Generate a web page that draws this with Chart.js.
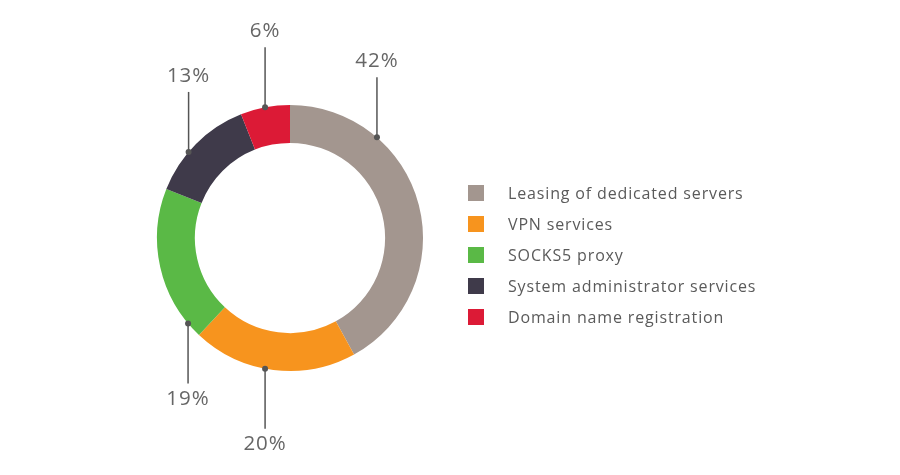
<!DOCTYPE html>
<html>
<head>
<meta charset="utf-8">
<script src="https://cdn.jsdelivr.net/npm/chart.js@4/dist/chart.umd.min.js"></script>
<style>
  html, body { margin: 0; padding: 0; background: #fff; }
  #wrap { position: relative; width: 900px; height: 475px; }
  #legend { position: absolute; left: 468px; top: 178px; font-family: "Open Sans", sans-serif; font-size: 16px; letter-spacing: 0.85px; color: #5a5a5a; }
  .row { display: flex; align-items: center; height: 30.8px; }
  .sw { width: 16px; height: 16px; margin-right: 24px; }
</style>
</head>
<body>
<div id="wrap">
  <canvas id="donut" width="900" height="475"></canvas>
  <div id="legend"></div>
</div>
<script>
const categories = ['Leasing of dedicated servers', 'VPN services', 'SOCKS5 proxy', 'System administrator services', 'Domain name registration'];
const shares = [42, 20, 19, 13, 6];
const colors = ['#a3968f', '#f7941e', '#5ab946', '#3f3a4a', '#dc1a36'];
// where along each slice the leader line is attached (0 = start, 1 = end)
const labelSpots = [0.27, 0.55, 0.1, 0.4, 0.5];

const legendDiv = document.getElementById('legend');
categories.forEach((name, i) => {
    const row = document.createElement('div');
    row.className = 'row';
    row.innerHTML = `<span class="sw" style="background:${colors[i]}"></span><span>${name}</span>`;
    legendDiv.appendChild(row);
});

const leaderLabels = {
    id: 'leaderLabels',
    afterDatasetsDraw(chart) {
        const ctx = chart.ctx;
        const arcs = chart.getDatasetMeta(0).data;
        ctx.save();
        arcs.forEach((arc, i) => {
            const a = arc.startAngle + (arc.endAngle - arc.startAngle) * labelSpots[i];
            const px = arc.x + Math.cos(a) * arc.outerRadius;
            const py = arc.y + Math.sin(a) * arc.outerRadius;
            const up = py < arc.y;
            const endY = up ? py - 60 : py + 60;
            ctx.strokeStyle = '#555';
            ctx.lineWidth = 1.5;
            ctx.beginPath();
            ctx.moveTo(px, py);
            ctx.lineTo(px, endY);
            ctx.stroke();
            ctx.fillStyle = '#555';
            ctx.beginPath();
            ctx.arc(px, py, 3, 0, Math.PI * 2);
            ctx.fill();
            ctx.fillStyle = '#666';
            ctx.font = '20.5px "Open Sans", sans-serif';
            ctx.letterSpacing = '1px';
            ctx.textAlign = 'center';
            ctx.textBaseline = 'middle';
            ctx.fillText(shares[i] + '%', px, up ? endY - 16 : endY + 16);
        });
        ctx.restore();
    }
};

new Chart(document.getElementById('donut').getContext('2d'), {
    type: 'doughnut',
    data: {
        labels: categories,
        datasets: [{
            data: shares,
            backgroundColor: colors,
            borderWidth: 0
        }]
    },
    options: {
        responsive: false,
        animation: false,
        cutout: '71.5%',
        layout: { padding: { left: 157, right: 477, top: 105, bottom: 104 } },
        plugins: {
            legend: { display: false },
            tooltip: { enabled: false }
        }
    },
    plugins: [leaderLabels]
});
</script>
</body>
</html>
